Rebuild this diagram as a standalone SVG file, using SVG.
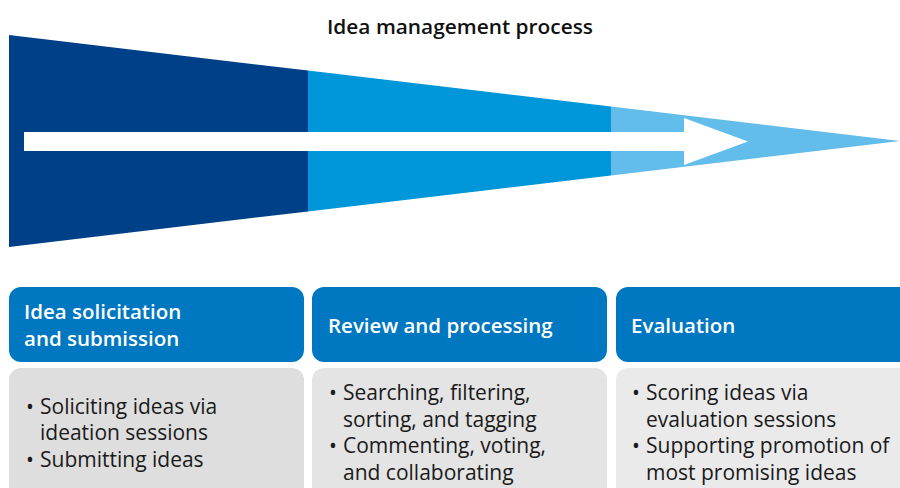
<svg xmlns="http://www.w3.org/2000/svg" width="900" height="488" viewBox="0 0 900 488">
<style>
.title{font-family:"Open Sans","Liberation Sans",sans-serif;font-size:20px;font-weight:600;fill:#111;}
.hd{fill:#0078C1;}
.hdt{font-family:"Open Sans","Liberation Sans",sans-serif;font-size:20.5px;font-weight:600;fill:#fff;}
.bt{font-family:"Open Sans","Liberation Sans",sans-serif;font-size:21px;fill:#1a1a1a;}
</style>
<rect width="900" height="488" fill="#fff"/>
<text class="title" x="460" y="34" text-anchor="middle" textLength="266" lengthAdjust="spacingAndGlyphs">Idea management process</text>
<g id="funnel">
<polygon points="9,35 308,70.6 308,211.4 9,247" fill="#004088"/>
<polygon points="308,70.6 611,106.6 611,175.4 308,211.4" fill="#0096DA"/>
<polygon points="611,106.6 900,141 611,175.4" fill="#62BDEA"/>
</g>
<g id="connectors">
<polygon points="24,132 684,132 684,118 748,141.5 684,165 684,151 24,151" fill="#fff"/>
</g>
<g id="stage1">
<rect class="hd" x="9" y="287" width="295" height="75" rx="12"/>
<text class="hdt" x="24" y="319">Idea solicitation</text>
<text class="hdt" x="24" y="346">and submission</text>
<rect x="9" y="368" width="295" height="140" rx="12" fill="#DEDEDE"/>
<text class="bt" x="26" y="414">•</text>
<text class="bt" x="40" y="414">Soliciting ideas via</text>
<text class="bt" x="40" y="440">ideation sessions</text>
<text class="bt" x="26" y="467">•</text>
<text class="bt" x="40" y="467">Submitting ideas</text>
</g>
<g id="stage2">
<rect class="hd" x="312" y="287" width="295" height="75" rx="12"/>
<text class="hdt" x="328" y="333">Review and processing</text>
<rect x="312" y="368" width="295" height="140" rx="12" fill="#E4E4E4"/>
<text class="bt" x="329" y="400">•</text>
<text class="bt" x="343" y="400">Searching, filtering,</text>
<text class="bt" x="343" y="427">sorting, and tagging</text>
<text class="bt" x="329" y="453">•</text>
<text class="bt" x="343" y="453">Commenting, voting,</text>
<text class="bt" x="343" y="480">and collaborating</text>
</g>
<g id="stage3">
<rect class="hd" x="616" y="287" width="300" height="75" rx="12"/>
<text class="hdt" x="631" y="333">Evaluation</text>
<rect x="616" y="368" width="300" height="140" rx="12" fill="#EAEAEA"/>
<text class="bt" x="632" y="400">•</text>
<text class="bt" x="646" y="400">Scoring ideas via</text>
<text class="bt" x="646" y="427">evaluation sessions</text>
<text class="bt" x="632" y="453">•</text>
<text class="bt" x="646" y="453">Supporting promotion of</text>
<text class="bt" x="646" y="480">most promising ideas</text>
</g>
</svg>
